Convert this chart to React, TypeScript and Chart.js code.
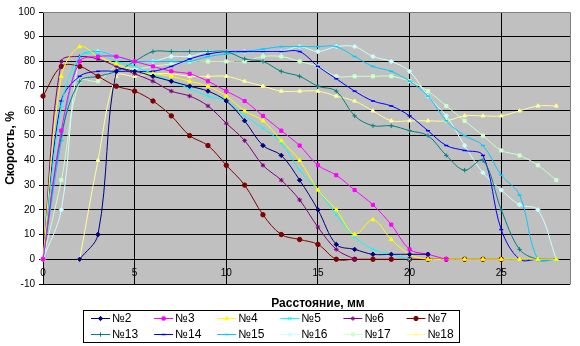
import React, { useEffect, useRef } from 'react';
import { Chart, registerables } from 'chart.js';
import { drawPoint } from 'chart.js/helpers';

Chart.register(...registerables);

// Distance, mm
const DIST = [0, 1, 2, 3, 4, 5, 6, 7, 8, 9, 10, 11, 12, 13, 14, 15, 16, 17, 18, 19, 20, 21, 22, 23, 24, 25, 26, 27, 28];

// Speed, % (null = no measurement)
const S2 = [null, null, 0, 10, 76, 76, 74, 72, 70, 68, 64, 56, 46, 42, 32, 20, 6, 4, 2, 2, 2, 2, null, null, null, null, null, null, null];
const S3 = [0, 52, 80, 82, 82, 80, 78, 76, 75, 72, 68, 64, 58, 52, 46, 38, 34, 28, 22, 14, 4, 2, 0, null, null, null, null, null, null];
const S4 = [0, 74, 86, 82, 79, 76, 75, 74, 72, 70, 66, 60, 56, 48, 40, 28, 20, 10, 16, 8, 2, 0, 0, 0, 0, 0, 0, 0, 0];
const S5 = [0, 62, 82, 83, 80, 78, 75, 72, 69, 66, 64, 58, 53, 47, 36, 28, 18, 9, 4, 2, 0, null, null, null, null, null, null, null, null];
const S6 = [0, 80, 82, 81, 78, 75, 72, 68, 66, 62, 55, 48, 38, 32, 24, 13, 4, 0, null, null, null, null, null, null, null, null, null, null, null];
const S7 = [66, 78, 78, 74, 70, 68, 64, 58, 50, 46, 38, 30, 18, 10, 8, 6, 0, 0, 0, 0, 0, 0, 0, 0, 0, 0, null, null, null];
const S13 = [0, 50, 72, 74, 76, 80, 84, 84, 84, 84, 84, 81, 80, 76, 74, 70, 68, 58, 54, 54, 52, 50, 42, 36, 40, 20, 4, 0, 0];
const S14 = [0, 64, 74, 76, 76, 76, 76, 78, 81, 83, 84, 84, 84, 84, 84, 78, 73, 68, 64, 62, 58, 52, 46, 44, 42, 12, 0, 0, 0];
const S15 = [0, 48, 82, 84, 82, 80, 80, 80, 80, 82, 83, 84, 85, 86, 86, 86, 86, 82, 78, 76, 72, 66, 56, 50, 46, 34, 26, 0, 0];
const S16 = [0, 20, 82, 84, 82, 80, 80, 82, 82, 84, 84, 84, 84, 84, 86, 84, 86, 86, 82, 80, 76, 66, 58, 46, 35, 28, 22, 20, 0];
const S17 = [0, 32, 72, 72, 78, 77, 78, 79, 80, 80, 80, 80, 82, 82, 80, 78, 74, 74, 74, 74, 72, 68, 62, 56, 50, 44, 42, 38, 32];
const S18 = [null, null, 0, 40, 74, 74, 75, 75, 74, 74, 74, 72, 70, 68, 68, 68, 66, 64, 60, 56, 56, 56, 56, 58, 58, 58, 60, 62, 62];

const SERIES_NAMES = ['№2', '№3', '№4', '№5', '№6', '№7', '№13', '№14', '№15', '№16', '№17', '№18'];
const SERIES_VALUES = [S2, S3, S4, S5, S6, S7, S13, S14, S15, S16, S17, S18];
const SERIES_COLORS = ['#000080', '#FF00FF', '#FFFF00', '#00FFFF', '#800080', '#800000', '#008080', '#0000FF', '#00CCFF', '#CCFFFF', '#CCFFCC', '#FFFF99'];
const SERIES_MARKERS = ['rectRot', 'rect', 'triangle', 'crossRot', 'star', 'circle', 'cross', 'line', 'line', 'rectRot', 'rect', 'triangle'];

const X_TICKS = [0, 5, 10, 15, 20, 25];
const X_MAX = 28.75;
const Y_MIN = -10;
const Y_MAX = 100;

const FONT = 'Arial, "Liberation Sans", sans-serif';

const frame = {
  id: 'excelFrame',
  beforeDraw(chart: any) {
    const { ctx, chartArea: a } = chart;
    ctx.save();
    ctx.fillStyle = '#C0C0C0';
    ctx.fillRect(a.left, a.top, a.right - a.left, a.bottom - a.top);
    ctx.restore();
  },
  beforeDatasetsDraw(chart: any) {
    const { ctx, chartArea: a } = chart;
    ctx.save();
    ctx.strokeStyle = '#808080';
    ctx.lineWidth = 1;
    ctx.beginPath();
    ctx.moveTo(a.left, Math.round(a.top) + 0.5);
    ctx.lineTo(Math.round(a.right) + 0.5, Math.round(a.top) + 0.5);
    ctx.lineTo(Math.round(a.right) + 0.5, Math.round(a.bottom) + 0.5);
    ctx.stroke();
    ctx.restore();
  },
  afterDraw(chart: any) {
    const { ctx } = chart;
    ctx.save();
    ctx.fillStyle = '#000';
    ctx.font = `bold 12px ${FONT}`;
    ctx.textAlign = 'center';
    ctx.textBaseline = 'middle';
    ctx.fillText('Расстояние, мм', 318, 304);
    ctx.strokeStyle = '#000';
    ctx.lineWidth = 1;
    ctx.strokeRect(83.5, 310.5, 376, 32);
    ctx.font = `12px ${FONT}`;
    ctx.textAlign = 'left';
    chart.data.datasets.forEach((ds: any, i: number) => {
      const col = i % 6;
      const row = Math.floor(i / 6);
      const x0 = 91 + col * 63.1;
      const x1 = x0 + 19;
      const y = row === 0 ? 318.5 : 334.5;
      ctx.strokeStyle = ds.borderColor;
      ctx.fillStyle = ds.borderColor;
      ctx.lineWidth = 1;
      ctx.beginPath();
      ctx.moveTo(x0, y);
      ctx.lineTo(x1, y);
      ctx.stroke();
      ctx.lineWidth = ds.pointBorderWidth;
      drawPoint(ctx, { pointStyle: ds.pointStyle, radius: ds.pointRadius, rotation: 0, borderWidth: ds.pointBorderWidth }, (x0 + x1) / 2, y);
      ctx.fillStyle = '#000';
      ctx.fillText(ds.label, x1 + 2, y + 0.5);
    });
    ctx.restore();
  },
};

export default function App() {
  const ref = useRef<HTMLCanvasElement>(null);
  useEffect(() => {
    document.body.style.margin = '0';
    const datasets = SERIES_NAMES.map((name, i) => {
      const vals = SERIES_VALUES[i];
      const data = DIST.map((d, k) => ({ x: d, y: vals[k] })).filter((p) => p.y !== null);
      const m = SERIES_MARKERS[i];
      return {
        label: name,
        data,
        borderColor: SERIES_COLORS[i],
        backgroundColor: SERIES_COLORS[i],
        borderWidth: 1,
        pointStyle: m,
        pointRadius: m === 'line' ? 2 : 2.2,
        pointBorderWidth: m === 'line' ? 1.5 : 1,
        pointBackgroundColor: SERIES_COLORS[i],
        pointBorderColor: SERIES_COLORS[i],
        tension: 0.35,
        clip: false as any,
      };
    });
    const chart = new Chart(ref.current!, {
      type: 'line',
      data: { datasets },
      plugins: [frame],
      options: {
        responsive: false,
        animation: false,
        events: [],
        layout: { padding: { left: 0, top: 12, right: 10, bottom: 62 } },
        plugins: { legend: { display: false }, tooltip: { enabled: false } },
        scales: {
          x: {
            type: 'linear',
            position: { y: 0 } as any,
            min: 0,
            max: X_MAX,
            afterBuildTicks: (scale: any) => {
              scale.ticks = X_TICKS.map((v) => ({ value: v }));
            },
            ticks: { stepSize: 5, color: '#000', font: { size: 10, family: FONT }, padding: 4, maxRotation: 0 },
            grid: { color: '#000', tickLength: 4, tickColor: '#000' },
            border: { color: '#000' },
          },
          y: {
            type: 'linear',
            min: Y_MIN,
            max: Y_MAX,
            afterFit: (scale: any) => {
              scale.width = 43;
            },
            ticks: { stepSize: 10, color: '#000', font: { size: 10, family: FONT }, padding: 4 },
            grid: {
              color: (c: any) => (c.tick && c.tick.value === Y_MAX ? '#808080' : '#000'),
              tickLength: 4,
              tickColor: '#000',
            },
            border: { color: '#000' },
            title: { display: true, text: 'Скорость, %', color: '#000', font: { size: 12, weight: 'bold', family: FONT }, padding: { top: 3, bottom: 0 } },
          },
        },
      },
    });
    return () => chart.destroy();
  }, []);
  return (
    <div style={{ position: 'absolute', left: 0, top: 0, width: 580, height: 346, background: '#fff' }}>
      <canvas ref={ref} width={580} height={346} style={{ width: 580, height: 346, display: 'block' }} />
    </div>
  );
}
